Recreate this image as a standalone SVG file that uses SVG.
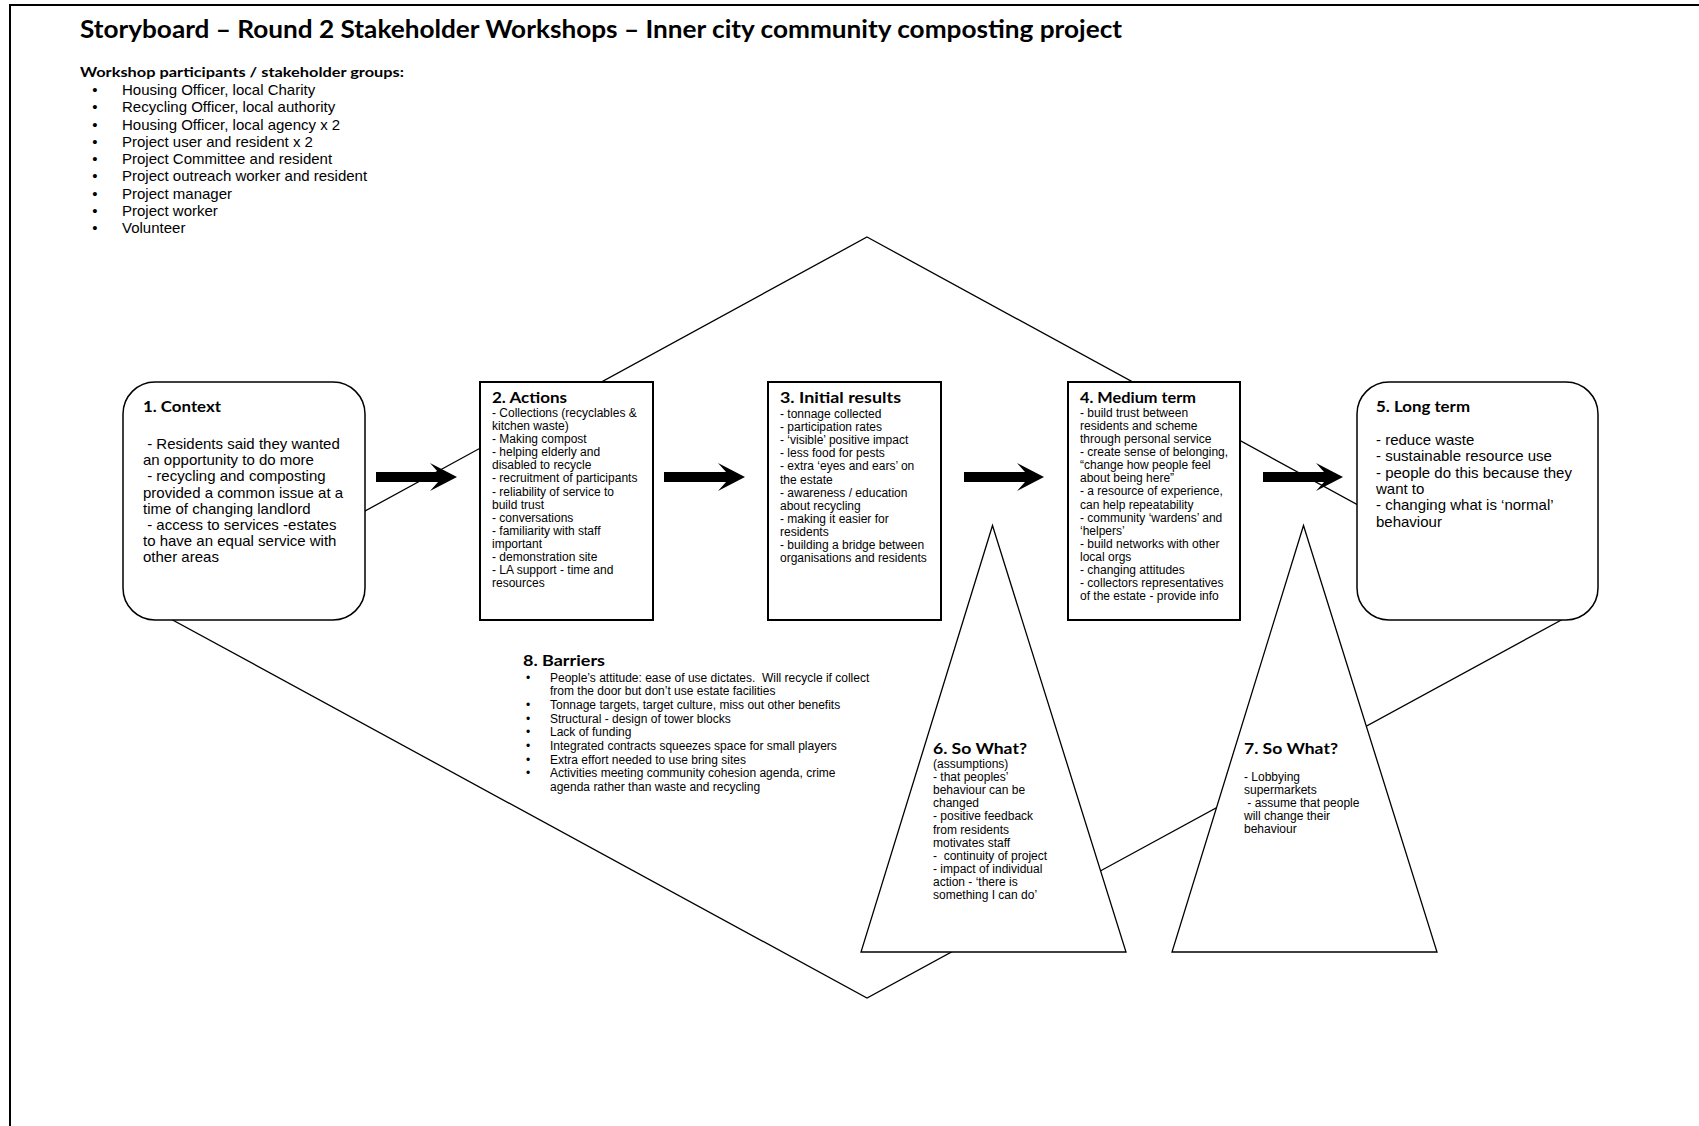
<svg xmlns="http://www.w3.org/2000/svg" width="1699" height="1126" viewBox="0 0 1699 1126">
<style>
.t{font-family:"Liberation Sans",Arial,sans-serif;fill:#000}
.s12{font-size:12px}
.s12b{font-size:12px}
.s15{font-size:15px}
.h{font-family:Lato,"DejaVu Sans",sans-serif;font-weight:bold;fill:#000;font-size:16px}
.ln{fill:none;stroke:#000;stroke-width:1.3}
.frame{fill:none;stroke:#000;stroke-width:2}
.box{fill:#fff;stroke:#000;stroke-width:2}
.rbox{fill:#fff;stroke:#000;stroke-width:1.5}
.tri{fill:#fff;stroke:#000;stroke-width:1.3}
.arr{fill:#000}
</style>
<rect width="1699" height="1126" fill="#fff"/>
<g id="frame">
<path class="frame" d="M10,1126 L10,5 L1699,5"/>
</g>
<g id="header">
<text class="h" x="80" y="38" style="font-size:24px" textLength="1042" lengthAdjust="spacingAndGlyphs">Storyboard – Round 2 Stakeholder Workshops – Inner city community composting project</text>
<text class="h" x="80" y="77" style="font-size:14px" textLength="324" lengthAdjust="spacingAndGlyphs">Workshop participants / stakeholder groups:</text>
<g class="t s15">
<text x="95" y="95" text-anchor="middle">•</text><text x="122" y="95">Housing Officer, local Charity</text>
<text x="95" y="112.25" text-anchor="middle">•</text><text x="122" y="112.25">Recycling Officer, local authority</text>
<text x="95" y="129.5" text-anchor="middle">•</text><text x="122" y="129.5">Housing Officer, local agency x 2</text>
<text x="95" y="146.75" text-anchor="middle">•</text><text x="122" y="146.75">Project user and resident x 2</text>
<text x="95" y="164" text-anchor="middle">•</text><text x="122" y="164">Project Committee and resident</text>
<text x="95" y="181.25" text-anchor="middle">•</text><text x="122" y="181.25">Project outreach worker and resident</text>
<text x="95" y="198.5" text-anchor="middle">•</text><text x="122" y="198.5">Project manager</text>
<text x="95" y="215.75" text-anchor="middle">•</text><text x="122" y="215.75">Project worker</text>
<text x="95" y="233" text-anchor="middle">•</text><text x="122" y="233">Volunteer</text>
</g>
</g>
<g id="connectors">
<path class="ln" d="M867,237 L1565,618 L867,998 L169,618 Z"/>
<polygon class="arr" points="376,472 438,472 430,463 457,477 430,491 438,482 376,482"/>
<polygon class="arr" points="664,472 726,472 718,463 745,477 718,491 726,482 664,482"/>
<polygon class="arr" points="964,472 1025,472 1017,463 1044,477 1017,491 1025,482 964,482"/>
<polygon class="arr" points="1263,472 1324,472 1316,463 1343,477 1316,491 1324,482 1263,482"/>
</g>
<g id="node1">
<rect class="rbox" x="123" y="382" width="242" height="238" rx="32" ry="32"/>
<text class="h" x="143" y="412" textLength="78" lengthAdjust="spacingAndGlyphs">1. Context</text>
<g class="t s15">
<text x="143" y="449" xml:space="preserve"> - Residents said they wanted</text>
<text x="143" y="465.2">an opportunity to do more</text>
<text x="143" y="481.4" xml:space="preserve"> - recycling and composting</text>
<text x="143" y="497.6">provided a common issue at a</text>
<text x="143" y="513.8">time of changing landlord</text>
<text x="143" y="530" xml:space="preserve"> - access to services -estates</text>
<text x="143" y="546.2">to have an equal service with</text>
<text x="143" y="562.4">other areas</text>
</g>
</g>
<g id="node2">
<rect class="box" x="480" y="382" width="173" height="238"/>
<text class="h" x="492" y="403" textLength="75" lengthAdjust="spacingAndGlyphs">2. Actions</text>
<g class="t s12">
<text x="492" y="417">- Collections (recyclables &amp;</text>
<text x="492" y="430.1">kitchen waste)</text>
<text x="492" y="443.2">- Making compost</text>
<text x="492" y="456.2">- helping elderly and</text>
<text x="492" y="469.3">disabled to recycle</text>
<text x="492" y="482.4">- recruitment of participants</text>
<text x="492" y="495.5">- reliability of service to</text>
<text x="492" y="508.6">build trust</text>
<text x="492" y="521.6">- conversations</text>
<text x="492" y="534.7">- familiarity with staff</text>
<text x="492" y="547.8">important</text>
<text x="492" y="560.9">- demonstration site</text>
<text x="492" y="574">- LA support - time and</text>
<text x="492" y="587">resources</text>
</g>
</g>
<g id="node3">
<rect class="box" x="768" y="382" width="173" height="238"/>
<text class="h" x="780" y="403" textLength="121" lengthAdjust="spacingAndGlyphs">3. Initial results</text>
<g class="t s12">
<text x="780" y="418">- tonnage collected</text>
<text x="780" y="431.1">- participation rates</text>
<text x="780" y="444.2">- ‘visible’ positive impact</text>
<text x="780" y="457.3">- less food for pests</text>
<text x="780" y="470.4">- extra ‘eyes and ears’ on</text>
<text x="780" y="483.5">the estate</text>
<text x="780" y="496.6">- awareness / education</text>
<text x="780" y="509.7">about recycling</text>
<text x="780" y="522.8">- making it easier for</text>
<text x="780" y="535.9">residents</text>
<text x="780" y="549">- building a bridge between</text>
<text x="780" y="562.1">organisations and residents</text>
</g>
</g>
<g id="node4">
<rect class="box" x="1068" y="382" width="172" height="238"/>
<text class="h" x="1080" y="403" textLength="116" lengthAdjust="spacingAndGlyphs">4. Medium term</text>
<g class="t s12">
<text x="1080" y="417">- build trust between</text>
<text x="1080" y="430.1">residents and scheme</text>
<text x="1080" y="443.1">through personal service</text>
<text x="1080" y="456.2">- create sense of belonging,</text>
<text x="1080" y="469.3">“change how people feel</text>
<text x="1080" y="482.4">about being here”</text>
<text x="1080" y="495.4">- a resource of experience,</text>
<text x="1080" y="508.5">can help repeatability</text>
<text x="1080" y="521.6">- community ‘wardens’ and</text>
<text x="1080" y="534.6">‘helpers’</text>
<text x="1080" y="547.7">- build networks with other</text>
<text x="1080" y="560.8">local orgs</text>
<text x="1080" y="573.8">- changing attitudes</text>
<text x="1080" y="586.9">- collectors representatives</text>
<text x="1080" y="600">of the estate - provide info</text>
</g>
</g>
<g id="node5">
<rect class="rbox" x="1357" y="382" width="241" height="238" rx="32" ry="32"/>
<text class="h" x="1376" y="412" textLength="94" lengthAdjust="spacingAndGlyphs">5. Long term</text>
<g class="t s15">
<text x="1376" y="445">- reduce waste</text>
<text x="1376" y="461.3">- sustainable resource use</text>
<text x="1376" y="477.6">- people do this because they</text>
<text x="1376" y="493.9">want to</text>
<text x="1376" y="510.2">- changing what is ‘normal’</text>
<text x="1376" y="526.5">behaviour</text>
</g>
</g>
<g id="node6">
<polygon class="tri" points="992.5,525.5 1126,952 861,952"/>
<text class="h" x="933" y="754" textLength="94" lengthAdjust="spacingAndGlyphs">6. So What?</text>
<g class="t s12">
<text x="933" y="768">(assumptions)</text>
<text x="933" y="781.1">- that peoples’</text>
<text x="933" y="794.2">behaviour can be</text>
<text x="933" y="807.3">changed</text>
<text x="933" y="820.4">- positive feedback</text>
<text x="933" y="833.5">from residents</text>
<text x="933" y="846.6">motivates staff</text>
<text x="933" y="859.7" xml:space="preserve">-  continuity of project</text>
<text x="933" y="872.8">- impact of individual</text>
<text x="933" y="885.9">action - ‘there is</text>
<text x="933" y="899">something I can do’</text>
</g>
</g>
<g id="node7">
<polygon class="tri" points="1303.5,525.5 1437,952 1172,952"/>
<text class="h" x="1244" y="754" textLength="94" lengthAdjust="spacingAndGlyphs">7. So What?</text>
<g class="t s12">
<text x="1244" y="781">- Lobbying</text>
<text x="1244" y="794">supermarkets</text>
<text x="1244" y="807" xml:space="preserve"> - assume that people</text>
<text x="1244" y="820">will change their</text>
<text x="1244" y="833">behaviour</text>
</g>
</g>
<g id="node8">
<text class="h" x="523" y="666" textLength="82" lengthAdjust="spacingAndGlyphs">8. Barriers</text>
<g class="t s12b">
<text x="528" y="681.5" text-anchor="middle">•</text><text x="550" y="681.5" xml:space="preserve">People’s attitude: ease of use dictates.  Will recycle if collect</text>
<text x="550" y="695.2">from the door but don’t use estate facilities</text>
<text x="528" y="708.9" text-anchor="middle">•</text><text x="550" y="708.9">Tonnage targets, target culture, miss out other benefits</text>
<text x="528" y="722.6" text-anchor="middle">•</text><text x="550" y="722.6">Structural - design of tower blocks</text>
<text x="528" y="736.3" text-anchor="middle">•</text><text x="550" y="736.3">Lack of funding</text>
<text x="528" y="750" text-anchor="middle">•</text><text x="550" y="750">Integrated contracts squeezes space for small players</text>
<text x="528" y="763.7" text-anchor="middle">•</text><text x="550" y="763.7">Extra effort needed to use bring sites</text>
<text x="528" y="777.4" text-anchor="middle">•</text><text x="550" y="777.4">Activities meeting community cohesion agenda, crime</text>
<text x="550" y="791.1">agenda rather than waste and recycling</text>
</g>
</g>
</svg>
